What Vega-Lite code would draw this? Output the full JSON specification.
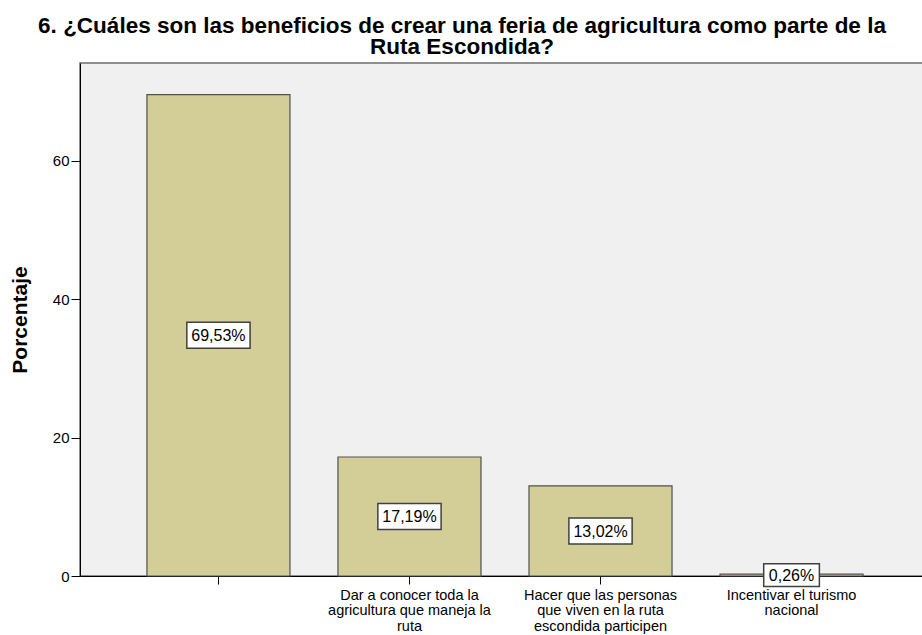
{
  "$schema": "https://vega.github.io/schema/vega-lite/v6.json",
  "width": 850,
  "height": 513,
  "padding": {"left": 80, "top": 63, "right": 0, "bottom": 59},
  "autosize": {"type": "none"},
  "background": "#ffffff",
  "config": {
    "font": "Liberation Sans",
    "view": {"fill": "#f0f0f0", "stroke": "#6e6e6e", "strokeWidth": 1.5}
  },
  "title": {
    "text": ["6. ¿Cuáles son las beneficios de crear una feria de agricultura como parte de la", "Ruta Escondida?"],
    "font": "Liberation Sans",
    "fontSize": 22.5,
    "fontWeight": "bold",
    "color": "#000000",
    "lineHeight": 21,
    "anchor": "middle",
    "dx": -43,
    "offset": 5
  },
  "data": {
    "values": [
      {"categoria": "", "pct": 69.53, "etiqueta": "69,53%"},
      {"categoria": "Dar a conocer toda la|agricultura que maneja la|ruta", "pct": 17.19, "etiqueta": "17,19%"},
      {"categoria": "Hacer que las personas|que viven en la ruta|escondida participen", "pct": 13.02, "etiqueta": "13,02%"},
      {"categoria": "Incentivar el turismo|nacional", "pct": 0.26, "etiqueta": "0,26%"}
    ]
  },
  "encoding": {
    "x": {
      "field": "categoria",
      "type": "nominal",
      "sort": null,
      "scale": {"paddingInner": 0.2513, "paddingOuter": 0.3504, "align": 0.5},
      "axis": {
        "title": null,
        "labelAngle": 0,
        "labelExpr": "split(datum.value, '|')",
        "labelFont": "Liberation Sans",
        "labelFontSize": 14.5,
        "labelLineHeight": 15.5,
        "labelColor": "#000000",
        "labelPadding": 4,
        "labelBaseline": "top",
        "tickSize": 8,
        "tickColor": "#000000",
        "domainColor": "#000000",
        "domainWidth": 1,
        "tickWidth": 1,
        "labelLimit": 300
      }
    }
  },
  "layer": [
    {
      "mark": {"type": "bar", "fill": "#d3ce98", "stroke": "#505050", "strokeWidth": 1.2},
      "encoding": {
        "y": {
          "field": "pct",
          "type": "quantitative",
          "scale": {"domain": [0, 74.1], "nice": false, "zero": true},
          "axis": {
            "title": "Porcentaje",
            "titleFont": "Liberation Sans",
            "titleFontSize": 21,
            "titleFontWeight": "bold",
            "titleColor": "#000000",
            "titlePadding": 22,
            "values": [0, 20, 40, 60],
            "labelFont": "Liberation Sans",
            "labelFontSize": 15,
            "labelColor": "#000000",
            "labelPadding": 2,
            "tickSize": 9,
            "tickColor": "#000000",
            "domainColor": "#000000",
            "domainWidth": 1,
            "grid": false
          }
        }
      }
    },
    {
      "mark": {
        "type": "point",
        "shape": "M-1,-0.41H1V0.41H-1Z",
        "filled": true,
        "fill": "#ffffff",
        "stroke": "#404040",
        "strokeWidth": 1.5,
        "opacity": 1
      },
      "encoding": {
        "y": {"field": "pct", "type": "quantitative", "scale": {"domain": [0, 148.2], "nice": false}, "axis": null},
        "size": {"condition": {"test": "datum.pct < 1", "value": 3100}, "value": 4000}
      }
    },
    {
      "mark": {"type": "text", "font": "Liberation Sans", "fontSize": 16, "color": "#000000", "baseline": "middle", "align": "center", "dy": 1},
      "encoding": {
        "y": {"field": "pct", "type": "quantitative", "scale": {"domain": [0, 148.2], "nice": false}, "axis": null},
        "text": {"field": "etiqueta"}
      }
    }
  ],
  "resolve": {"scale": {"y": "independent"}}
}
